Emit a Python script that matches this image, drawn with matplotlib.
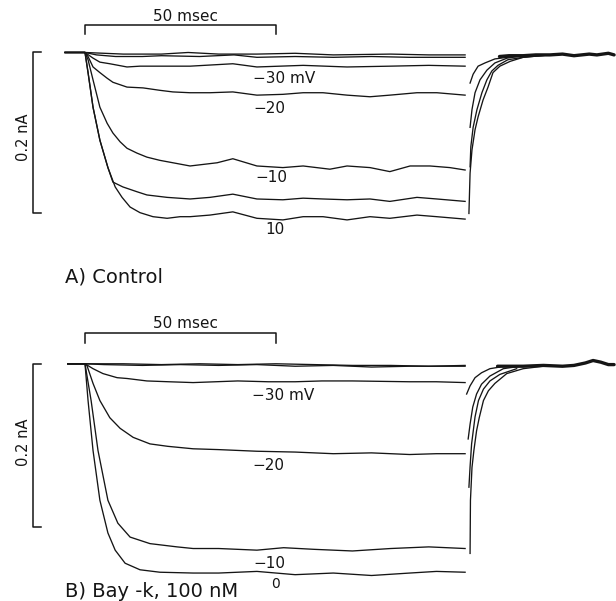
import matplotlib
matplotlib.use("Agg")
import matplotlib.pyplot as plt

# ---------------------------------------------------------------------------
# Whole-cell Ca2+ currents: time in ms from the start of the test pulse,
# current in nA (inward negative).
# ---------------------------------------------------------------------------

# ---- A) Control: currents during the step --------------------------------
ctrl_m50_t = [-5.2, 0, 5, 10, 20, 27, 35, 45, 55, 65, 80, 90, 99.5]
ctrl_m50_i = [0, 0, -0.001, -0.002, -0.002, 0.000, -0.002, -0.002, -0.001, -0.003, -0.002, -0.003, -0.003]

ctrl_m40_t = [-5.2, 0, 3, 8, 15, 20, 30, 39, 45, 55, 65, 75, 85, 99.5]
ctrl_m40_i = [0, 0, -0.003, -0.005, -0.005, -0.004, -0.005, -0.003, -0.006, -0.005, -0.006, -0.005, -0.006, -0.006]

ctrl_m30_t = [-5.2, 0, 2.1, 3.9, 6.5, 11, 14.4, 20, 27.5, 38.7, 45, 57.1, 68.6, 79.8, 90, 99.5]
ctrl_m30_i = [0, 0, -0.007, -0.012, -0.014, -0.018, -0.017, -0.017, -0.017, -0.014, -0.018, -0.016,
              -0.018, -0.017, -0.016, -0.017]

ctrl_m20_t = [-5.2, 0, 0.8, 2.1, 3.9, 5.8, 7.3, 11.0, 15.2, 19.6, 23.0, 27.5, 32.7, 38.7, 45, 51.8,
              57.1, 62.3, 68.6, 74.6, 79.8, 86.9, 92.1, 99.5]
ctrl_m20_i = [0, 0, -0.005, -0.018, -0.025, -0.032, -0.037, -0.043, -0.044, -0.047, -0.049, -0.050,
              -0.050, -0.049, -0.053, -0.052, -0.050, -0.050, -0.053, -0.055, -0.053, -0.050, -0.050, -0.053]

ctrl_m10_t = [-5.2, 0, 0.8, 2.1, 3.9, 5.8, 7.3, 9.2, 11.0, 13.6, 16.2, 19.6, 23.0, 27.5, 34.6, 38.7,
              45, 51.8, 57.1, 64.1, 68.6, 74.6, 79.8, 85.1, 90.3, 95.5, 99.5]
ctrl_m10_i = [0, 0, -0.009, -0.034, -0.068, -0.088, -0.100, -0.111, -0.119, -0.125, -0.130, -0.134,
              -0.137, -0.141, -0.137, -0.132, -0.141, -0.143, -0.141, -0.145, -0.141, -0.143, -0.148,
              -0.141, -0.141, -0.143, -0.146]

ctrl_0_t = [-5.2, 0, 0.8, 2.1, 3.9, 6.0, 7.3, 9.9, 13.6, 16.2, 21.5, 27.5, 32.7, 38.7, 45, 51.8,
            57.1, 62.3, 68.6, 74.6, 79.8, 86.9, 92.1, 99.5]
ctrl_0_i = [0, 0, -0.025, -0.068, -0.109, -0.143, -0.161, -0.167, -0.173, -0.177, -0.180, -0.182,
            -0.180, -0.176, -0.182, -0.183, -0.181, -0.182, -0.183, -0.182, -0.185, -0.180, -0.182, -0.185]

ctrl_p10_t = [-5.2, 0, 0.8, 2.1, 3.9, 6.0, 7.9, 9.7, 11.8, 14.4, 17.8, 21.5, 24.9, 27.5, 32.7, 38.7,
              45, 51.8, 57.1, 62.3, 68.6, 74.6, 79.8, 86.9, 92.1, 99.5]
ctrl_p10_i = [0, 0, -0.025, -0.068, -0.109, -0.143, -0.167, -0.180, -0.192, -0.199, -0.204, -0.206,
              -0.204, -0.204, -0.202, -0.198, -0.206, -0.208, -0.204, -0.204, -0.208, -0.204, -0.206,
              -0.202, -0.204, -0.207]

# ---- A) Control: tail currents after repolarization ----------------------
ctrl_tail1_t = [100.5, 100.8, 101.3, 102.1, 102.9, 104.2, 105.5, 106.8, 108.6, 111.3, 114.7, 121.7]
ctrl_tail1_i = [-0.200, -0.150, -0.121, -0.096, -0.080, -0.059, -0.043, -0.025, -0.017, -0.011, -0.006, -0.003]

ctrl_tail2_t = [100.8, 101.0, 101.6, 102.6, 103.9, 105.2, 106.5, 108.1, 110.7, 114.7, 121.7]
ctrl_tail2_i = [-0.142, -0.117, -0.093, -0.071, -0.050, -0.034, -0.023, -0.016, -0.009, -0.006, -0.003]

ctrl_tail3_t = [100.8, 101.3, 102.1, 103.4, 105.2, 107.3, 110.5, 114.7]
ctrl_tail3_i = [-0.093, -0.071, -0.050, -0.034, -0.022, -0.013, -0.007, -0.004]

ctrl_tail4_t = [100.8, 101.6, 102.9, 104.7, 107.3, 110.5, 114.7, 118.0]
ctrl_tail4_i = [-0.038, -0.027, -0.017, -0.013, -0.008, -0.006, -0.004, -0.003]

ctrl_post_t = [108.5, 111, 114.7, 118, 121.7, 125, 128, 132, 134, 137, 138.5]
ctrl_post_i = [-0.005, -0.004, -0.004, -0.003, -0.003, -0.002, -0.004, -0.002, -0.003, -0.001, -0.003]

# ---- B) Bay-k 100 nM: currents during the step ---------------------------
bay_m50_t = [-4.5, 0, 10, 20, 30, 40, 50, 60, 70, 80, 90, 99.5]
bay_m50_i = [0, 0, 0.000, -0.001, 0.000, -0.001, 0.000, -0.001, -0.002, -0.002, -0.003, -0.002]

bay_m40_t = [-4.5, 0, 5, 15, 25, 35, 45, 55, 65, 75, 85, 99.5]
bay_m40_i = [0, 0, -0.001, -0.002, -0.001, -0.002, -0.001, -0.003, -0.002, -0.004, -0.003, -0.003]

bay_m30_t = [-4.5, 0, 2.1, 4.7, 8.4, 11, 16.2, 22, 28.3, 40, 48, 55, 62, 70, 85, 92, 99.5]
bay_m30_i = [0, 0, -0.006, -0.012, -0.017, -0.018, -0.021, -0.022, -0.023, -0.021, -0.022, -0.022,
             -0.021, -0.021, -0.022, -0.022, -0.023]

bay_m20_t = [-4.5, 0, 0.5, 2.1, 3.9, 6.5, 9.2, 12.6, 17.0, 21.7, 28.3, 35, 45, 55, 65, 75, 85, 92, 99.5]
bay_m20_i = [0, 0, -0.002, -0.024, -0.045, -0.066, -0.079, -0.090, -0.098, -0.101, -0.104, -0.105,
             -0.107, -0.108, -0.110, -0.109, -0.111, -0.110, -0.110]

bay_m10_t = [-4.5, 0, 1.6, 3.4, 6.0, 8.6, 11.8, 17.0, 24.1, 28.3, 35, 45, 52, 60, 70, 80, 90, 99.5]
bay_m10_i = [0, 0, -0.045, -0.106, -0.167, -0.195, -0.212, -0.220, -0.224, -0.226, -0.226, -0.228,
             -0.225, -0.227, -0.229, -0.226, -0.224, -0.226]

bay_0_t = [-4.5, 0, 0.8, 2.1, 3.9, 6.0, 7.9, 10.5, 14.4, 19.6, 28.3, 35, 45, 55, 65, 75, 85, 92, 99.5]
bay_0_i = [0, 0, -0.045, -0.106, -0.167, -0.207, -0.228, -0.244, -0.252, -0.255, -0.256, -0.256,
           -0.254, -0.258, -0.256, -0.259, -0.256, -0.254, -0.255]

# ---- B) Bay-k 100 nM: tail currents --------------------------------------
bay_tail1_t = [100.8, 100.9, 101.3, 101.8, 102.5, 103.2, 104.3, 105.6, 107.3, 110.4, 114.7, 121.7]
bay_tail1_i = [-0.232, -0.167, -0.127, -0.106, -0.082, -0.066, -0.045, -0.033, -0.024, -0.012, -0.006, -0.002]

bay_tail2_t = [100.5, 100.8, 101.2, 102.1, 103.0, 104.3, 106.0, 108.6, 113.0]
bay_tail2_i = [-0.151, -0.126, -0.098, -0.065, -0.045, -0.031, -0.021, -0.013, -0.006]

bay_tail3_t = [100.3, 100.8, 101.5, 102.5, 103.8, 106.0, 109.5, 113.9]
bay_tail3_i = [-0.092, -0.074, -0.053, -0.037, -0.025, -0.015, -0.006, -0.003]

bay_tail4_t = [99.9, 100.8, 102.1, 103.8, 106.0, 108.6]
bay_tail4_i = [-0.037, -0.027, -0.017, -0.011, -0.006, -0.004]

bay_post_t = [108, 114.7, 120, 125, 128, 131, 133, 135, 137, 138.5]
bay_post_i = [-0.003, -0.003, -0.002, -0.003, -0.002, 0.001, 0.004, 0.002, -0.001, -0.001]

# ---- calibration bars and labels ------------------------------------------
scale_ms = 50      # horizontal calibration (ms)
scale_na = 0.2     # vertical calibration (nA)
scale_ms_label = "50 msec"
scale_na_label = "0.2 nA"

ctrl_labels = ["\u221230 mV", "\u221220", "\u221210", "10"]
ctrl_label_t = [44.0, 44.0, 44.5, 47.1]
ctrl_label_i = [-0.032, -0.069, -0.155, -0.2205]
ctrl_label_size = [11, 11, 11, 11]

bay_labels = ["\u221230 mV", "\u221220", "\u221210", "0"]
bay_label_t = [43.7, 43.7, 44.0, 48.8]
bay_label_i = [-0.039, -0.124, -0.244, -0.270]
bay_label_size = [11, 11, 11, 10]

INK = "#151515"
TRACE_LW = 0.95


def draw_panel(ax, steps, tails, post, labels, label_t, label_i, label_size,
               title, bar_y, tick_y, bar_text_y, na_text_i):
    for t, i in steps:
        ax.plot(t, i, color=INK, lw=TRACE_LW, solid_joinstyle="round")
    for t, i in tails:
        ax.plot(t, i, color=INK, lw=TRACE_LW, solid_joinstyle="round")
    ax.plot(post[0], post[1], color=INK, lw=2.4, solid_joinstyle="round",
            solid_capstyle="round")

    # time calibration bar with end ticks
    ax.plot([0, 0, scale_ms, scale_ms], [tick_y, bar_y, bar_y, tick_y],
            color=INK, lw=1.1)
    ax.text(scale_ms / 2 + 1.4, bar_text_y, scale_ms_label, ha="center",
            va="center", fontsize=11, color=INK)

    # current calibration bar (bracket)
    bx, tx = -13.6, -11.5
    ax.plot([tx, bx, bx, tx], [0, 0, -scale_na, -scale_na], color=INK, lw=1.1)
    ax.text(-16.2, na_text_i, scale_na_label, rotation=90, ha="center",
            va="center", fontsize=10.5, color=INK)

    for s, t, i, fs in zip(labels, label_t, label_i, label_size):
        ax.text(t, i, s, ha="left", va="center", fontsize=fs, color=INK)

    ax.text(-5.2, -0.279, title, ha="left", va="center", fontsize=14, color=INK)


fig = plt.figure(figsize=(6.16, 6.01), dpi=100)
fig.patch.set_facecolor("white")

ax_a = fig.add_axes([0, 1 - 300 / 601, 1, 300 / 601])
ax_b = fig.add_axes([0, 0, 1, 300 / 601])
for ax in (ax_a, ax_b):
    ax.set_xlim(-22.25, 139.0)
    ax.axis("off")
ax_a.set_ylim(-0.3075, 0.0652)
ax_b.set_ylim(-0.2902, 0.0768)

draw_panel(
    ax_a,
    [(ctrl_m50_t, ctrl_m50_i), (ctrl_m40_t, ctrl_m40_i), (ctrl_m30_t, ctrl_m30_i),
     (ctrl_m20_t, ctrl_m20_i), (ctrl_m10_t, ctrl_m10_i), (ctrl_0_t, ctrl_0_i),
     (ctrl_p10_t, ctrl_p10_i)],
    [(ctrl_tail1_t, ctrl_tail1_i), (ctrl_tail2_t, ctrl_tail2_i),
     (ctrl_tail3_t, ctrl_tail3_i), (ctrl_tail4_t, ctrl_tail4_i)],
    (ctrl_post_t, ctrl_post_i),
    ctrl_labels, ctrl_label_t, ctrl_label_i, ctrl_label_size, "A) Control",
    bar_y=0.0342, tick_y=0.0230, bar_text_y=0.0453, na_text_i=-0.105,
)

draw_panel(
    ax_b,
    [(bay_m50_t, bay_m50_i), (bay_m40_t, bay_m40_i), (bay_m30_t, bay_m30_i),
     (bay_m20_t, bay_m20_i), (bay_m10_t, bay_m10_i), (bay_0_t, bay_0_i)],
    [(bay_tail1_t, bay_tail1_i), (bay_tail2_t, bay_tail2_i),
     (bay_tail3_t, bay_tail3_i), (bay_tail4_t, bay_tail4_i)],
    (bay_post_t, bay_post_i),
    bay_labels, bay_label_t, bay_label_i, bay_label_size, "B) Bay -k, 100 nM",
    bar_y=0.0378, tick_y=0.0256, bar_text_y=0.0488, na_text_i=-0.096,
)

fig.savefig("out.png", dpi=100, facecolor="white")
